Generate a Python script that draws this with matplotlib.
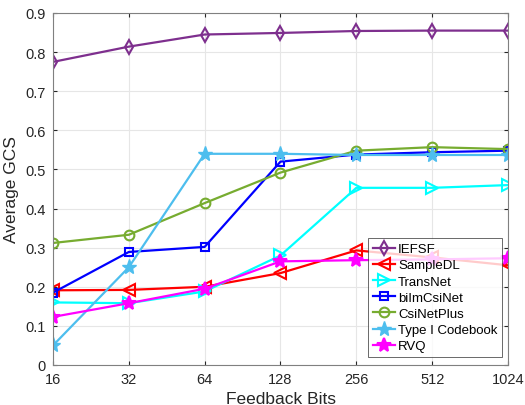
import matplotlib.pyplot as plt

plt.rcParams['font.family'] = ['Liberation Sans', 'DejaVu Sans']

bits = [16, 32, 64, 128, 256, 512, 1024]

iefsf = [0.775, 0.814, 0.845, 0.849, 0.854, 0.855, 0.855]
sampledl = [0.191, 0.192, 0.200, 0.235, 0.293, 0.275, 0.255]
transnet = [0.160, 0.158, 0.188, 0.280, 0.453, 0.453, 0.460]
bimcsinet = [0.185, 0.289, 0.302, 0.520, 0.538, 0.544, 0.548]
csinetplus = [0.312, 0.333, 0.414, 0.492, 0.548, 0.557, 0.552]
typei = [0.050, 0.250, 0.540, 0.540, 0.537, 0.537, 0.537]
rvq = [0.123, 0.158, 0.195, 0.265, 0.268, 0.270, 0.273]

fig = plt.figure(figsize=(5.25, 4.06), dpi=100)
ax = fig.add_axes([53 / 525, 40 / 406, 455 / 525, 352 / 406])

lw = 1.6
ax.plot(bits, iefsf, color='#7E2F8E', marker='d', mfc='none', mew=1.5, ms=7, lw=lw, label='IEFSF')
ax.plot(bits, sampledl, color='#FF0000', marker='<', mfc='none', mew=1.5, ms=8, lw=lw, label='SampleDL')
ax.plot(bits, transnet, color='#00FFFF', marker='>', mfc='none', mew=1.5, ms=8, lw=lw, label='TransNet')
ax.plot(bits, bimcsinet, color='#0000FF', marker='s', mfc='none', mew=1.5, ms=6, lw=lw, label='biImCsiNet')
ax.plot(bits, csinetplus, color='#77AC30', marker='o', mfc='none', mew=1.5, ms=7, lw=lw, label='CsiNetPlus')
ax.plot(bits, typei, color='#4DBEEE', marker='*', ms=11, lw=lw, label='Type I Codebook')
ax.plot(bits, rvq, color='#FF00FF', marker='*', ms=10, mew=1.5, lw=lw, label='RVQ')

ax.set_xscale('log', base=2)
ax.set_xlim(16, 1024)
ax.set_xticks(bits)
ax.set_xticklabels([str(b) for b in bits])
ax.minorticks_off()
ax.set_ylim(0, 0.9)
ax.set_yticks([i / 10 for i in range(10)])
ax.set_yticklabels(['0'] + ['%.1f' % (i / 10) for i in range(1, 10)])

ax.grid(True, color='#E6E6E6', lw=0.8)
ax.set_axisbelow(True)
for s in ax.spines.values():
    s.set_color('#808080')
    s.set_linewidth(0.8)
ax.tick_params(direction='in', length=3, colors='#262626', labelsize=10.5, top=True, right=True,
               labeltop=False, labelright=False, pad=5)

ax.set_xlabel('Feedback Bits', fontsize=12.5, color='#262626', labelpad=4)
ax.set_ylabel('Average GCS', fontsize=12.5, color='#262626', labelpad=5)

leg = ax.legend(loc='lower right', bbox_to_anchor=(1 - 6 / 455, 8 / 352), fontsize=9.5, frameon=True,
                fancybox=False, edgecolor='#262626', handlelength=1.7, handletextpad=0.2, borderpad=0.35,
                labelspacing=0.3, borderaxespad=0.0)
leg.get_frame().set_linewidth(0.6)

fig.savefig('out.png', dpi=100)
